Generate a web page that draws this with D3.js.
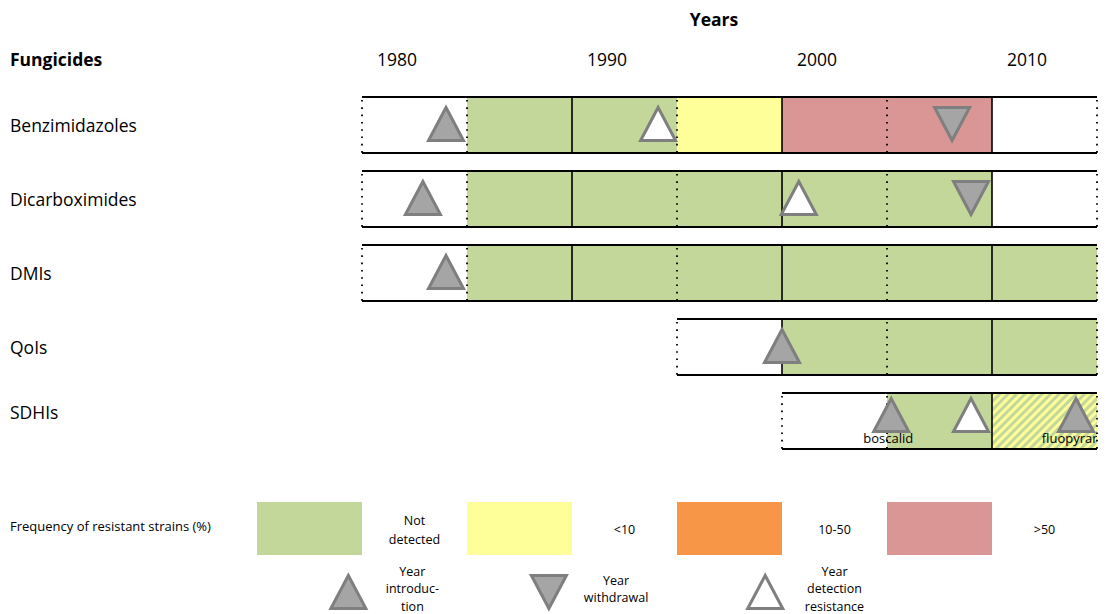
<!DOCTYPE html>
<html lang="en">
<head>
    <meta charset="UTF-8">
    <title>Fungicide resistance timeline</title>
    <script src="https://d3js.org/d3.v7.min.js"></script>
    <style>
        body{
            margin: 0;
            background-color: white;
        }
        svg text{
            font-family: "Open Sans", "Noto Sans", sans-serif;
            fill: #000;
        }
        .bold{
            font-weight: bold;
        }
    </style>
</head>
<body>
<svg id="canvas" width="1107" height="614"></svg>
<script>
    // data
    let fungicides = ["Benzimidazoles", "Dicarboximides", "DMIs", "QoIs", "SDHIs"];
    let firstYear = [1980, 1980, 1980, 1995, 2000];   // start of each row's band
    let lastYear = 2015;
    let yearTicks = [1980, 1990, 2000, 2010];

    // [fungicide, from, to, resistance class]
    let periods = [
        ["Benzimidazoles", 1985, 1995, "nd"],
        ["Benzimidazoles", 1995, 2000, "lt10"],
        ["Benzimidazoles", 2000, 2010, "gt50"],
        ["Dicarboximides", 1985, 2010, "nd"],
        ["DMIs", 1985, 2015, "nd"],
        ["QoIs", 2000, 2015, "nd"],
        ["SDHIs", 2005, 2010, "nd"],
        ["SDHIs", 2010, 2015, "mixed"]
    ];

    // [fungicide, year, event, label]
    let events = [
        ["Benzimidazoles", 1984, "intro", ""],
        ["Benzimidazoles", 1994.1, "detect", ""],
        ["Benzimidazoles", 2008.1, "withdraw", ""],
        ["Dicarboximides", 1982.9, "intro", ""],
        ["Dicarboximides", 2000.8, "detect", ""],
        ["Dicarboximides", 2009, "withdraw", ""],
        ["DMIs", 1984, "intro", ""],
        ["QoIs", 2000, "intro", ""],
        ["SDHIs", 2005.2, "intro", "boscalid"],
        ["SDHIs", 2009, "detect", ""],
        ["SDHIs", 2014, "intro", "fluopyram"]
    ];

    let classNames = ["nd", "lt10", "10to50", "gt50"];
    let classLabels = [["Not", "detected"], ["<10"], ["10-50"], [">50"]];
    let classColors = ["#C4D79B", "#FFFF99", "#F79646", "#DA9694"];
    let eventNames = ["intro", "withdraw", "detect"];
    let eventLabels = [["Year", "introduc-", "tion"], ["Year", "withdrawal"], ["Year", "detection", "resistance"]];

    let svg = d3.select('#canvas');

    let x = d3.scaleLinear().domain([1980, 2015]).range([362, 1097]);
    let y = d3.scaleBand().domain(fungicides).range([97, 449]).paddingInner(0.243).paddingOuter(0);
    let fillOf = d3.scaleOrdinal().domain(classNames).range(classColors);

    // rows whose markers carry a product name sit a little higher
    let labelled = new Set(events.filter(d => d[3]).map(d => d[0]));

    // hatched pattern for the mixed SDHI period
    let defs = svg.append('defs');
    let pat = defs.append('pattern')
        .attr('id', 'hatch')
        .attr('patternUnits', 'userSpaceOnUse')
        .attr('width', 6).attr('height', 6)
        .attr('patternTransform', 'rotate(45)');
    pat.append('rect').attr('width', 6).attr('height', 6).attr('fill', fillOf('lt10'));
    pat.append('rect').attr('width', 3).attr('height', 6).attr('fill', fillOf('nd'));

    // clip product names to their band, like a table cell
    fungicides.forEach(function (f, i) {
        defs.append('clipPath').attr('id', 'clip' + i)
            .append('rect')
            .attr('x', x(firstYear[i])).attr('y', y(f))
            .attr('width', x(lastYear) - x(firstYear[i]))
            .attr('height', y.bandwidth());
    });

    // titles
    svg.append('text').attr('class', 'bold').attr('x', 714).attr('y', 26)
        .attr('text-anchor', 'middle').style('font-size', '17.5px').text('Years');
    svg.append('text').attr('class', 'bold').attr('x', 10).attr('y', 66)
        .style('font-size', '17.5px').text('Fungicides');

    svg.selectAll('text.year')
        .data(yearTicks)
        .enter()
        .append('text')
        .attr('class', 'year')
        .attr('x', d => x(d + 1.67))
        .attr('y', 66)
        .attr('text-anchor', 'middle')
        .style('font-size', '17.5px')
        .text(d => d);

    // row labels
    svg.selectAll('text.rowLabel')
        .data(fungicides)
        .enter()
        .append('text')
        .attr('class', 'rowLabel')
        .attr('x', 10)
        .attr('y', d => y(d) + y.bandwidth() / 2 + 7 - (labelled.has(d) ? 9 : 0))
        .style('font-size', '17.5px')
        .text(d => d);

    // coloured periods
    svg.append('g').selectAll('rect')
        .data(periods)
        .enter()
        .append('rect')
        .attr('x', d => x(d[1]))
        .attr('y', d => y(d[0]))
        .attr('width', d => x(d[2]) - x(d[1]))
        .attr('height', y.bandwidth())
        .attr('fill', d => d[3] === 'mixed' ? 'url(#hatch)' : fillOf(d[3]));

    // grid lines of each band
    let grid = svg.append('g');
    fungicides.forEach(function (f, i) {
        let top = y(f), bottom = y(f) + y.bandwidth();
        let years = d3.range(firstYear[i], lastYear + 1, 5);
        years.forEach(function (yr) {
            let edge = (yr === firstYear[i] || yr === lastYear);
            let solid = !edge && yr % 10 === 0;
            grid.append('line')
                .attr('x1', x(yr)).attr('x2', x(yr))
                .attr('y1', solid ? top : top + 3)
                .attr('y2', bottom)
                .attr('stroke', '#000')
                .attr('stroke-width', solid ? 1.6 : 1.8)
                .attr('stroke-dasharray', solid ? null : '1.6 5.7');
        });
        [top, bottom].forEach(function (yy) {
            grid.append('line')
                .attr('x1', x(firstYear[i])).attr('x2', x(lastYear))
                .attr('y1', yy).attr('y2', yy)
                .attr('stroke', '#000')
                .attr('stroke-width', 1.8);
        });
    });

    // triangles
    function triangle(cx, cy, down) {
        let w = 17.5, h = 16.5;
        if (down) {
            return `M${cx - w},${cy - h}L${cx + w},${cy - h}L${cx},${cy + h}Z`;
        }
        return `M${cx - w},${cy + h}L${cx + w},${cy + h}L${cx},${cy - h}Z`;
    }
    function triFill(ev) {
        return ev === 'detect' ? 'white' : '#A5A5A5';
    }

    let marks = svg.append('g');
    marks.selectAll('path')
        .data(events)
        .enter()
        .append('path')
        .attr('d', function (d) {
            let lift = labelled.has(d[0]) ? 6 : 1;
            return triangle(x(d[1]), y(d[0]) + y.bandwidth() / 2 - lift, d[2] === 'withdraw');
        })
        .attr('fill', d => triFill(d[2]))
        .attr('stroke', '#7F7F7F')
        .attr('stroke-width', 3)
        .attr('stroke-linejoin', 'miter');

    marks.selectAll('text')
        .data(events.filter(d => d[3]))
        .enter()
        .append('text')
        .attr('x', d => x(d[1]) - 3)
        .attr('y', d => y(d[0]) + y.bandwidth() - 6)
        .attr('text-anchor', 'middle')
        .attr('clip-path', d => `url(#clip${fungicides.indexOf(d[0])})`)
        .style('font-size', '13px')
        .text(d => d[3]);

    // legend
    let legend = svg.append('g');
    legend.append('text').attr('x', 10).attr('y', 531)
        .style('font-size', '13px')
        .text('Frequency of resistant strains (%)');

    let swatchStart = [1975, 1985, 1995, 2005];
    legend.selectAll('rect')
        .data(classNames)
        .enter()
        .append('rect')
        .attr('x', (d, i) => x(swatchStart[i]))
        .attr('y', 502)
        .attr('width', (d, i) => x(swatchStart[i] + 5) - x(swatchStart[i]))
        .attr('height', 53)
        .attr('fill', d => fillOf(d));

    classNames.forEach(function (c, i) {
        let lines = classLabels[i];
        let t = legend.append('text')
            .attr('x', x(swatchStart[i] + 7.5))
            .attr('y', lines.length > 1 ? 525 : 534)
            .attr('text-anchor', 'middle')
            .style('font-size', '12.5px');
        lines.forEach(function (l, j) {
            t.append('tspan').attr('x', x(swatchStart[i] + 7.5)).attr('dy', j ? 19 : 0).text(l);
        });
    });

    let symbolAt = [1979.35, 1988.9, 1999.2];
    let symbolText = [1982.4, 1992.1, 2002.5];
    eventNames.forEach(function (ev, i) {
        legend.append('path')
            .attr('d', triangle(x(symbolAt[i]), 592, ev === 'withdraw'))
            .attr('fill', triFill(ev))
            .attr('stroke', '#7F7F7F')
            .attr('stroke-width', 3);
        let lines = eventLabels[i];
        let t = legend.append('text')
            .attr('x', x(symbolText[i]))
            .attr('y', lines.length > 2 ? 576 : 585)
            .attr('text-anchor', 'middle')
            .style('font-size', '12.5px');
        lines.forEach(function (l, j) {
            t.append('tspan').attr('x', x(symbolText[i])).attr('dy', j ? 17.3 : 0).text(l);
        });
    });
</script>
</body>
</html>
